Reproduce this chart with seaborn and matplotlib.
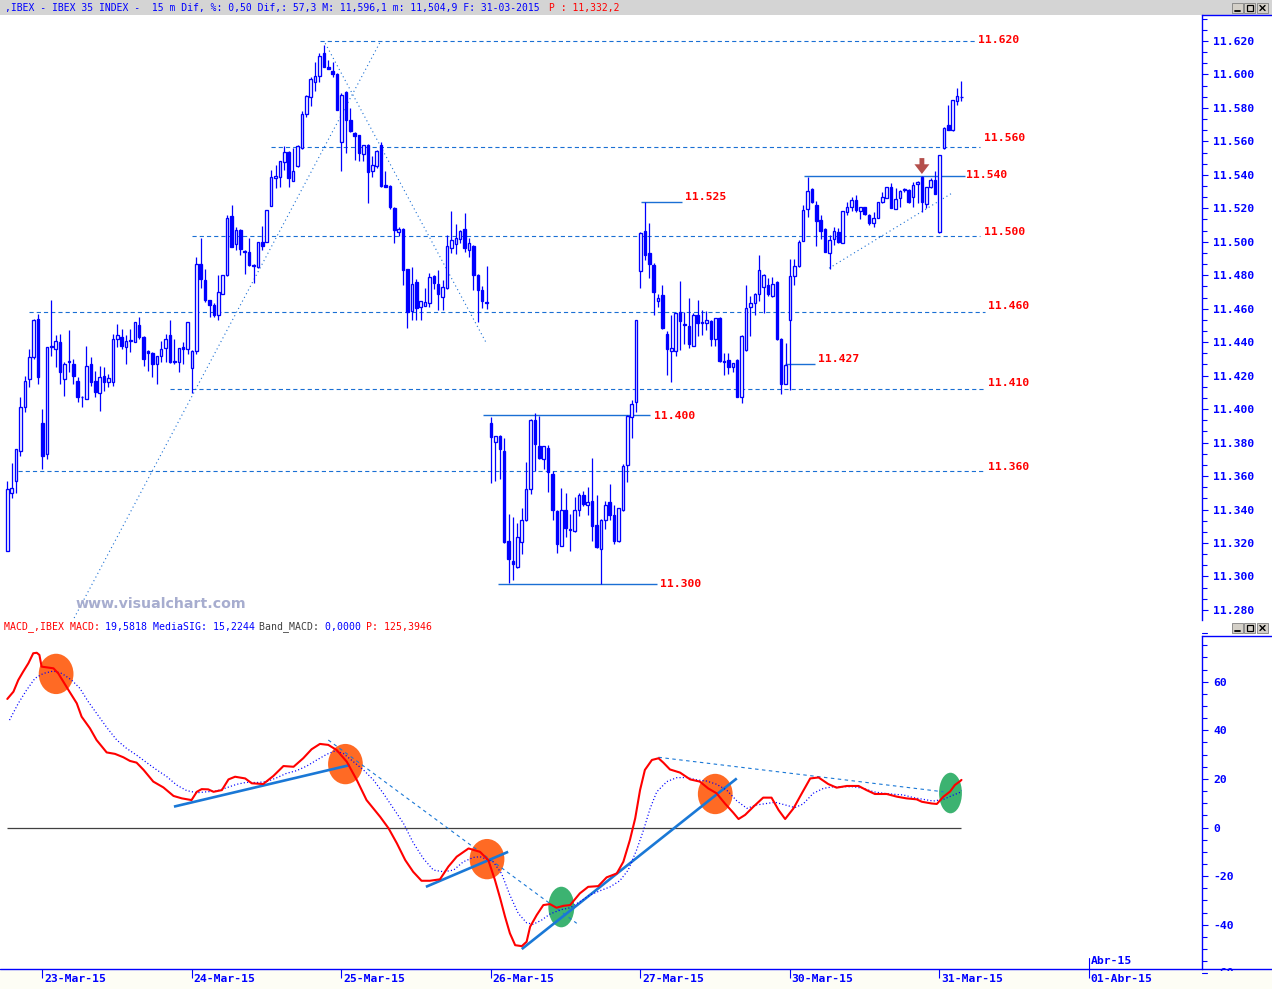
import numpy as np
import matplotlib
matplotlib.use("Agg")
import matplotlib.pyplot as plt
import matplotlib.transforms as mtransforms
from matplotlib.patches import Ellipse, Rectangle
from matplotlib.lines import Line2D
import seaborn as sns

# ---------------- DATA ----------------
opens = [
    11315, 11350, 11357, 11375, 11401, 11418, 11431, 11454, 11392, 11373,
    11437, 11436, 11440, 11418, 11428.5, 11427, 11417, 11407.5, 11406, 11427,
    11417, 11409.5, 11420, 11416, 11416, 11442, 11443, 11437, 11441, 11440,
    11450, 11443, 11435, 11433.5, 11427, 11431.5, 11436.5, 11444, 11428.5, 11428,
    11437, 11436, 11424.5, 11435, 11486.5, 11477, 11465, 11462, 11456.5, 11469,
    11480, 11515.5, 11498.5, 11507, 11494.5, 11494, 11486, 11485, 11500, 11500,
    11521.5, 11538, 11539, 11547.5, 11553.5, 11536.5, 11545, 11556, 11576.5, 11586.5,
    11595.5, 11599, 11612.5, 11604.5, 11602, 11600.5, 11559.5, 11589.5, 11573, 11565,
    11563.5, 11552.5, 11558, 11542, 11545, 11558, 11534, 11533.5, 11520, 11506,
    11507.5, 11483.5, 11458.5, 11476, 11461, 11461.5, 11463.5, 11479.5, 11475, 11467,
    11472.5, 11496.5, 11498.5, 11501.5, 11507.5, 11495, 11497.5, 11480, 11471, 11464,
    11392, 11380.5, 11384, 11375, 11321, 11309.5, 11305.5, 11320.5, 11333.5, 11352,
    11393.5, 11378, 11370, 11377, 11361.5, 11339, 11318.5, 11340, 11328.5, 11327,
    11340, 11348.5, 11342.5, 11345, 11331, 11316.5, 11334, 11344.5, 11337, 11321,
    11340, 11366.5, 11395.5, 11404, 11482.5, 11506.5, 11493.5, 11486, 11464.5, 11468,
    11445, 11435, 11434.5, 11458, 11451, 11449.5, 11438, 11456.5, 11452, 11451.5,
    11452.5, 11442, 11454.5, 11429, 11429.5, 11425, 11429.5, 11407, 11435.5, 11461,
    11463.5, 11469, 11473, 11474, 11467.5, 11476, 11442, 11415, 11453, 11479.5,
    11485.5, 11500.5, 11519.5, 11531.5, 11522, 11513, 11507.5, 11493.5, 11501.5, 11506,
    11499, 11518, 11520.5, 11525, 11518.5, 11520.5, 11516, 11511, 11514.5, 11523.5,
    11526, 11532.5, 11519.5, 11526, 11531, 11531, 11526.5, 11534.5, 11539, 11522.5,
    11532.5, 11537, 11506, 11556, 11570, 11567, 11584, 11586.5,
]
highs = [
    11357, 11368, 11376, 11407, 11420, 11436, 11454, 11457, 11400, 11437,
    11465, 11444, 11445, 11428, 11447, 11430, 11419, 11408, 11438, 11431,
    11423, 11426, 11425, 11421, 11445, 11451, 11448, 11444, 11448, 11452,
    11455, 11443.5, 11435.5, 11434, 11432, 11441, 11445, 11453, 11442, 11436.5,
    11440, 11452, 11435.5, 11491, 11502, 11484, 11465.5, 11463.5, 11480, 11480,
    11516, 11522, 11509, 11507.5, 11495, 11502, 11486.5, 11500, 11509.5, 11519,
    11543, 11546, 11548.5, 11557, 11554, 11556, 11558, 11578, 11587.5, 11598.5,
    11607.5, 11612.5, 11617.5, 11608.5, 11607.5, 11601, 11589, 11590, 11580, 11565.5,
    11564, 11558, 11558.5, 11551.5, 11555, 11559.5, 11542, 11534, 11520.5, 11509,
    11508, 11484, 11485, 11477.5, 11464.5, 11472.5, 11481.5, 11480, 11483, 11477,
    11504, 11518.5, 11510.5, 11507, 11517, 11502, 11498, 11480.5, 11473.5, 11485.5,
    11395, 11384, 11384.5, 11383, 11337.5, 11335.5, 11332, 11341, 11368.5, 11394,
    11397.5, 11396, 11378, 11378.5, 11363, 11340, 11353, 11350, 11337.5, 11347.5,
    11350, 11351, 11353.5, 11371, 11348.5, 11334.5, 11345, 11355.5, 11343, 11341,
    11367, 11396.5, 11405.5, 11453.5, 11506, 11523.5, 11511, 11487.5, 11469, 11474,
    11446.5, 11456, 11457.5, 11476.5, 11458, 11466.5, 11457.5, 11465.5, 11459.5, 11458.5,
    11453, 11454.5, 11455, 11433.5, 11433.5, 11427.5, 11430, 11444, 11474, 11467.5,
    11469.5, 11492, 11481, 11478.5, 11479, 11476.5, 11442.5, 11439.5, 11489.5, 11490,
    11501, 11522, 11539, 11532, 11524.5, 11516, 11508, 11504, 11509, 11508,
    11518.5, 11524, 11527, 11528, 11521, 11521, 11516.5, 11518, 11523.5, 11530,
    11533, 11535, 11532, 11531, 11532, 11531.5, 11536, 11536.5, 11539.5, 11533,
    11538, 11542, 11552, 11568.5, 11582, 11585, 11592, 11596,
]
lows = [
    11315, 11347, 11350, 11372, 11398, 11413, 11430, 11415, 11364, 11370,
    11432, 11425, 11415, 11408, 11422, 11415, 11404, 11401.5, 11406, 11414,
    11407.5, 11399, 11411, 11413, 11414, 11437, 11436, 11427, 11434, 11440,
    11442, 11426, 11423, 11419, 11415, 11428, 11428, 11427.5, 11427, 11422,
    11427, 11433, 11409.5, 11433, 11472.5, 11464, 11455, 11455, 11453.5, 11469,
    11479.5, 11497, 11495, 11492, 11481, 11485.5, 11475.5, 11484.5, 11495, 11500,
    11521.5, 11532, 11533, 11543, 11533, 11536.5, 11544.5, 11555.5, 11574.5, 11581,
    11590, 11595.5, 11604.5, 11603, 11598.5, 11579, 11542.5, 11553, 11565.5, 11549,
    11548, 11548, 11523, 11539, 11544, 11533, 11532.5, 11519.5, 11499.5, 11503.5,
    11474, 11448.5, 11453.5, 11453.5, 11453.5, 11461.5, 11461, 11471.5, 11459, 11459,
    11472, 11493, 11492.5, 11499, 11494, 11491, 11471, 11452, 11460.5, 11460,
    11356, 11357, 11358.5, 11320, 11296, 11298, 11305, 11313.5, 11333, 11349,
    11363, 11370, 11364.5, 11350.5, 11334, 11314, 11318, 11323.5, 11315, 11326.5,
    11336, 11342, 11337, 11321.5, 11317, 11295.5, 11328.5, 11334, 11319.5, 11320.5,
    11339, 11356.5, 11383, 11398.5, 11472.5, 11489, 11478.5, 11456.5, 11461, 11448,
    11420.5, 11416.5, 11432, 11435.5, 11439, 11436.5, 11437.5, 11443.5, 11444.5, 11447,
    11438, 11437.5, 11428, 11420.5, 11421, 11422, 11407, 11403.5, 11435, 11443.5,
    11456.5, 11464.5, 11457.5, 11467.5, 11467, 11441.5, 11409, 11415, 11411.5, 11474,
    11485, 11500.5, 11515, 11523, 11497.5, 11501.5, 11494, 11484, 11498, 11499,
    11499, 11516, 11518.5, 11518, 11513.5, 11516, 11510, 11509, 11514.5, 11523,
    11526, 11520, 11519.5, 11521, 11530, 11523, 11521, 11523, 11517.5, 11520,
    11532, 11528.5, 11505, 11555.5, 11566.5, 11566, 11581.5, 11584,
]
closes = [
    11352, 11353, 11376, 11401, 11417, 11431, 11453, 11419, 11372, 11437,
    11437.5, 11441, 11422, 11427, 11428, 11420, 11407.5, 11407, 11426, 11416,
    11410.5, 11419, 11416, 11418.5, 11442, 11444, 11438, 11441, 11441.5, 11452,
    11443, 11430, 11433.5, 11427, 11431.5, 11436, 11442, 11428, 11428, 11436.5,
    11436, 11452, 11435, 11486.5, 11477.5, 11465, 11462, 11456.5, 11470, 11480,
    11514.5, 11497, 11507, 11495.5, 11494, 11486, 11485.5, 11500, 11497.5, 11519,
    11538.5, 11539.5, 11548.5, 11553.5, 11538, 11542.5, 11557, 11576.5, 11587, 11597.5,
    11599, 11611, 11604.5, 11603, 11600.5, 11579, 11587.5, 11573, 11566, 11563,
    11553, 11558, 11541.5, 11546, 11554.5, 11533.5, 11532.5, 11520.5, 11507, 11507.5,
    11483, 11458, 11474.5, 11460.5, 11464.5, 11464, 11479, 11475.5, 11468.5, 11473,
    11497.5, 11501, 11502, 11506.5, 11496.5, 11499, 11480, 11471, 11464.5, 11463.5,
    11383.5, 11384, 11376, 11320.5, 11310.5, 11307.5, 11323.5, 11333.5, 11352.5, 11393.5,
    11379, 11370.5, 11378, 11362.5, 11340, 11319.5, 11340, 11329, 11327.5, 11339.5,
    11348.5, 11343.5, 11344.5, 11330, 11317.5, 11334, 11343, 11336.5, 11321, 11341,
    11366, 11396, 11403, 11453.5, 11505.5, 11492, 11486.5, 11470, 11466.5, 11448.5,
    11436, 11436.5, 11457.5, 11452.5, 11450.5, 11439, 11456.5, 11451.5, 11451.5, 11453.5,
    11442, 11454.5, 11428.5, 11428, 11425, 11427.5, 11407.5, 11443.5, 11460.5, 11463.5,
    11469, 11483, 11480, 11468.5, 11474.5, 11442, 11415, 11426.5, 11479.5, 11485.5,
    11500, 11519, 11530.5, 11523.5, 11512.5, 11506.5, 11494, 11501, 11506.5, 11500,
    11518.5, 11520.5, 11525, 11519, 11520.5, 11516.5, 11511.5, 11514.5, 11523.5, 11526.5,
    11532.5, 11520, 11525.5, 11530.5, 11531.3, 11523.5, 11534, 11536, 11523.5, 11532.5,
    11537, 11528.5, 11552, 11568, 11567, 11585, 11587, 11586.3,
]

# MACD line (bar position, value)
macd_x = [0, 1.4, 2.5, 3.6, 4.8, 5.9, 6.7, 7.3, 7.8, 10.5, 11.6, 13.9, 15.8, 16.9, 18.8,
          20.3, 22.6, 24.5, 26.4, 27.9, 29.4, 31, 33.2, 35.5, 37.8, 39.7, 41.9, 43.1, 44.2,
          45.7, 46.9, 48.8, 50.3, 51.8, 54.1, 55.6, 58.2, 60.5, 62.8, 65.1, 67.3, 69.2, 71.1,
          73, 74.9, 77.2, 79.5, 81.7, 84.8, 86.7, 88.6, 90.5, 92.3, 94.2, 96.1, 98.4, 100.3,
          102.2, 104.9, 107.5, 109.4, 110.9, 112.1, 113.2, 114.3, 115.5, 117, 118.1, 118.9,
          120.4, 121.9, 123.4, 124.9, 126.5, 128, 130.2, 132.1, 134.4, 136.3, 138.6, 140.1,
          141.6, 142.8, 143.9, 145, 146.6, 148.1, 149.2, 150.7, 153, 155.3, 157.5, 159.4,
          161.3, 163.2, 165.1, 166.3, 167.8, 169.7, 171.9, 173.8, 175.4, 176.9, 178.8, 180.7,
          182.6, 184.5, 186.7, 188.6, 190.9, 193.6, 195.4, 197.3, 200, 202.3, 204.5, 206.8,
          208, 210.2, 211.4, 212.9, 214.4, 215.5, 216.7, 217]
macd_v = [52.9, 55.9, 60.7, 64.1, 67.6, 71.7, 71.9, 71.0, 66.2, 65.5, 63.4, 56.6, 51.1, 45.6, 40.8,
          36.0, 30.9, 30.3, 28.9, 27.4, 26.7, 23.7, 18.9, 16.5, 13.0, 12.0, 11.3, 14.7, 15.8,
          15.7, 14.7, 15.4, 19.8, 20.9, 20.2, 18.2, 17.9, 21.2, 25.3, 25.0, 28.5, 32.2, 34.4,
          34.0, 31.9, 27.1, 19.5, 11.3, 4.4, -0.3, -6.5, -13.4, -18.2, -21.9, -21.9, -21.3, -16.1,
          -12.0, -8.6, -10.0, -13.4, -21.6, -29.2, -36.7, -43.5, -48.4, -48.8, -47.0, -40.8,
          -36.0, -31.9, -31.5, -33.0, -32.2, -31.9, -27.1, -24.4, -24.1, -20.5, -18.9, -14.1,
          -5.1, 3.8, 15.4, 23.7, 27.8, 28.5, 26.7, 23.9, 22.6, 19.8, 18.9, 16.1,
          14.1, 9.9, 6.1, 3.5, 5.2, 8.6, 12.3, 12.3, 7.2, 3.5, 7.9, 14.1,
          20.2, 20.6, 17.9, 16.4, 17.1, 17.1, 15.4, 13.8, 13.8, 12.7, 12.0, 11.6,
          10.6, 9.9, 9.7, 12.7, 14.8, 17.5, 19.1, 19.6]

# Signal line (MediaSIG)
sig_x = [0.5, 2.5, 4.4, 6.3, 8.2, 10.5, 12.4, 14.6, 16.5, 18.4, 20.3, 22.6, 24.9, 27.1, 29.4,
         31.7, 34, 36.3, 38.5, 40.8, 43.1, 45.3, 47.6, 49.9, 52.2, 54.4, 56.7, 59, 61.3, 63.5,
         65.8, 68.1, 70.4, 72.6, 74.5, 76.4, 78.7, 81, 83.3, 85.5, 87.8, 90.1, 92.3, 94.6,
         96.9, 99.2, 101.5, 103.7, 106, 107.5, 110.5, 112.4, 114.3, 116.2, 118.1, 119.6,
         121.5, 123.4, 125.7, 128, 130.2, 132.5, 134.8, 137.1, 139.3, 141.2, 143.1, 144.7,
         146.2, 147.7, 150, 152.2, 154.5, 156.8, 159.1, 161.3, 163.6, 165.9, 168.2, 170.4,
         172.7, 174.6, 176.9, 179.1, 181, 183.3, 185.6, 187.9, 190.1, 192.4, 194.7, 197,
         199.2, 201.5, 203.8, 206.1, 208.3, 210.6, 212.9, 214.8, 216.7, 217]
sig_v = [44.2, 51.1, 56.6, 61.4, 63.4, 64.4, 63.4, 60.7, 57.3, 51.8, 47.0, 41.2, 36.0, 32.6, 29.8,
         26.7, 23.7, 20.9, 17.5, 15.2, 14.3, 14.7, 15.0, 16.4, 17.8, 18.6, 18.5, 18.9, 20.5, 22.3,
         23.4, 25.3, 27.8, 30.1, 31.5, 30.5, 27.1, 23.7, 19.5, 14.1, 7.9, 1.7, -6.2, -12.7,
         -17.5, -18.2, -17.5, -14.1, -12.3, -12.0, -14.1, -18.9, -27.8, -35.3, -39.2, -39.8,
         -38.1, -35.6, -33.9, -33.0, -30.5, -27.8, -26.0, -24.4, -21.9, -17.5, -9.3, -1.0,
         7.9, 14.7, 18.9, 20.5, 20.6, 19.6, 19.1, 17.8, 15.4, 11.0, 7.9, 9.3,
         9.9, 10.4, 9.3, 8.2, 9.7, 14.1, 16.1, 16.8, 16.8, 16.8, 16.1, 14.7,
         14.1, 13.7, 13.4, 12.3, 11.6, 10.9, 11.6, 13.1, 14.5, 15.2]

day_start_bars = [8, 42, 76, 110, 144, 178, 212, 246]
day_labels = ["23-Mar-15", "24-Mar-15", "25-Mar-15", "26-Mar-15",
              "27-Mar-15", "30-Mar-15", "31-Mar-15", "01-Abr-15"]

# annotation levels on the price panel
dash_levels = [11620.0, 11556.7, 11503.5, 11458.1, 11412.1, 11363.1]
dash_start = [71.1, 60.0, 42.0, 4.9, 37.0, 2.4]
dash_end = [220.1, 221.2, 221.2, 222.3, 222.3, 222.3]
dash_labels = ["11.620", "11.560", "11.500", "11.460", "11.410", "11.360"]
dash_label_x = [220.8, 222.1, 222.1, 223.0, 223.0, 223.0]
dash_label_y = [11620.6, 11562.0, 11505.9, 11461.6, 11415.6, 11365.4]

solid_levels = [11523.8, 11539.3, 11427.0, 11396.5, 11295.5]
solid_start = [144.1, 181.2, 176.9, 108.2, 111.6]
solid_end = [153.4, 217.8, 183.7, 146.2, 147.8]
solid_labels = ["11.525", "11.540", "11.427", "11.400", "11.300"]
solid_label_x = [154.1, 218.0, 184.4, 147.1, 148.4]
solid_label_y = [11526.8, 11539.9, 11430.0, 11395.9, 11295.5]

diag_lines = [((15.2, 11275.2), (84.8, 11619.4)),
              ((72.3, 11618.6), (108.9, 11439.7)),
              ((186.9, 11484.2), (214.8, 11529.0))]

macd_trend_solid = [((37.9, 8.6), (77.9, 25.7)),
                    ((95.2, -24.4), (113.9, -10.0)),
                    ((117.0, -50.0), (165.9, 20.2))]
macd_trend_dashed = [((73.0, 36.0), (129.5, -39.4)),
                     ((148.1, 28.9), (212.9, 14.7))]
orange_marks = [(11.1, 63.2), (76.9, 26.1), (109.1, -13.0), (161.0, 13.8)]
green_marks = [(126.0, -32.7), (214.5, 14.2)]

# ---------------- STYLE ----------------
sns.set_style("white")
plt.rcParams['font.family'] = ['DejaVu Sans Mono', 'DejaVu Sans']
plt.rcParams['lines.scale_dashes'] = False

BLUE = '#0000ff'
RED = '#ff0000'
LINEBLUE = '#1a6fd4'
W, H = 1272, 989
AXR = 1202


def fx(px):
    return px / W


def fy(py):
    return 1 - py / H


fig = plt.figure(figsize=(W / 100, H / 100), dpi=100)
fig.patch.set_facecolor('white')

ax1 = fig.add_axes([0, fy(620), fx(AXR), (620 - 15) / H])
ax2 = fig.add_axes([0, fy(969), fx(AXR), (969 - 636) / H], sharex=ax1)
for ax in (ax1, ax2):
    ax.set_facecolor('white')
    for s in ('left', 'top', 'bottom'):
        ax.spines[s].set_visible(False)
    ax.spines['right'].set_color(BLUE)
    ax.spines['right'].set_linewidth(1.0)
    ax.yaxis.tick_right()
    ax.tick_params(axis='y', which='both', direction='out', color=BLUE, width=0.8,
                   labelcolor=BLUE, pad=4.2, left=False)
    ax.tick_params(axis='y', which='major', length=4)
    ax.tick_params(axis='y', which='minor', length=3.5)

ax1.set_xlim(-1.66, 271.7)
ax1.set_ylim(11274.0, 11635.5)
ax2.set_ylim(-58.2, 78.8)

# ---------------- CANDLES ----------------
o = np.array(opens, float)
h = np.array(highs, float)
l = np.array(lows, float)
c = np.array(closes, float)
idx = np.arange(len(c))
up = c >= o
ax1.vlines(idx, l, h, color=BLUE, lw=0.9, zorder=2)
bot = np.minimum(o, c)
hgt = np.maximum(np.abs(c - o), 0.5)
ax1.bar(idx[up], hgt[up], bottom=bot[up], width=0.58, facecolor='white',
        edgecolor=BLUE, linewidth=0.95, zorder=3)
ax1.bar(idx[~up], hgt[~up], bottom=bot[~up], width=0.58, facecolor=BLUE,
        edgecolor=BLUE, linewidth=0.95, zorder=3)

lab_font = dict(family='DejaVu Sans Mono', fontsize=8.2, fontweight='bold')
for lev, x0, x1, lab, lx, ly in zip(dash_levels, dash_start, dash_end, dash_labels,
                                    dash_label_x, dash_label_y):
    ax1.hlines(lev, x0, x1, color=LINEBLUE, lw=0.8, linestyles=(0, (3, 2.2)), zorder=1)
    ax1.text(lx, ly, lab, color=RED, va='center', ha='left', **lab_font)
for lev, x0, x1, lab, lx, ly in zip(solid_levels, solid_start, solid_end, solid_labels,
                                    solid_label_x, solid_label_y):
    ax1.hlines(lev, x0, x1, color=LINEBLUE, lw=1.0, zorder=1)
    ax1.text(lx, ly, lab, color=RED, va='center', ha='left', **lab_font)
for (xa, ya), (xb, yb) in diag_lines:
    ax1.plot([xa, xb], [ya, yb], color=LINEBLUE, lw=0.8, ls=(0, (0.8, 2.2)), zorder=1)

# down arrow (signal marker)
acx, atop, atip = 208.0, 11550.0, 11540.5
shw, hw, hstart = 0.55, 1.7, 11546.3
ax1.fill([acx - shw, acx + shw, acx + shw, acx + hw, acx, acx - hw, acx - shw],
         [atop, atop, hstart, hstart, atip, hstart, hstart],
         color='#b44f4b', zorder=5, lw=0)

# price ticks
pt = np.arange(11280, 11621, 20)
ax1.set_yticks(pt, labels=[f"{v / 1000:.3f}" for v in pt], fontsize=8.2,
               fontweight='bold', family='DejaVu Sans Mono')
ax1.set_yticks([11280 + k * 20 / 3 for k in range(0, 54) if 11274 < 11280 + k * 20 / 3 < 11635],
               minor=True)
ax1.tick_params(axis='x', which='both', bottom=False, labelbottom=False)

# ---------------- MACD ----------------
for (cx, cy) in orange_marks:
    ax2.add_patch(Ellipse((cx, cy), 7.9, 16.6, color='#ff6a24', lw=0, zorder=1))
for (cx, cy), wd in zip(green_marks, [5.9, 5.2]):
    ax2.add_patch(Ellipse((cx, cy), wd, 16.7, color='#3cb371', lw=0, zorder=1))

ax2.hlines(0, 0, 217, color='#404040', lw=0.9, zorder=2)
for (xa, ya), (xb, yb) in macd_trend_solid:
    ax2.plot([xa, xb], [ya, yb], color='#1a78d6', lw=1.9, zorder=3, solid_capstyle='butt')
for (xa, ya), (xb, yb) in macd_trend_dashed:
    ax2.plot([xa, xb], [ya, yb], color='#1a78d6', lw=0.8, ls=(0, (2.5, 2.5)), zorder=3)

sns.lineplot(x=sig_x, y=sig_v, ax=ax2, color=BLUE, lw=0.9, linestyle=(0, (0.8, 1.6)),
             estimator=None, sort=False, zorder=4)
sns.lineplot(x=macd_x, y=macd_v, ax=ax2, color=RED, lw=1.5, estimator=None, sort=False,
             zorder=5)
ax2.set_xlabel('')
ax2.set_ylabel('')
ax1.set_ylabel('')

mt = np.arange(-40, 61, 20)
ax2.set_yticks(mt, labels=[f"{v:d}" for v in mt], fontsize=8.2, fontweight='bold',
               family='DejaVu Sans Mono')
ax2.set_yticks(np.arange(-55, 79, 5), minor=True)

# clipped edge labels 80 and -60
clipbox = mtransforms.Bbox.from_extents(AXR, H - 971, W, H - 636)
yblend = mtransforms.blended_transform_factory(ax2.transAxes, ax2.transData)
for v in (80, -60):
    t = ax2.text(1 + 11 / (AXR), v, f"{v:d}", transform=yblend, color=BLUE, va='center',
                 ha='left', clip_on=True, **lab_font)
    t.set_clip_box(clipbox)
    ax2.plot([1, 1 + 5 / AXR], [v, v], transform=yblend, color=BLUE, lw=0.8,
             clip_on=False)

# date axis ticks
tick_x = np.array(day_start_bars) - 0.1
ax2.set_xticks(tick_x, labels=[''] * len(tick_x))
ax2.tick_params(axis='x', which='major', bottom=True, direction='out', length=6.5,
                width=0.8, color=BLUE)
xblend = mtransforms.blended_transform_factory(ax2.transData, ax2.transAxes)
for tx, lab in zip(tick_x, day_labels):
    ax2.text(tx + 0.45, -10 / 333, lab, transform=xblend, color=BLUE, va='center',
             ha='left', clip_on=False, **lab_font)
ax2.plot([tick_x[-1], tick_x[-1]], [11 / 333, 0], transform=xblend, color=BLUE,
         lw=0.8, clip_on=False)
ax2.text(tick_x[-1] + 0.45, 8 / 333, "Abr-15", transform=xblend, color=BLUE,
         va='center', ha='left', clip_on=False, **lab_font)

# ---------------- FIGURE DECORATIONS ----------------
fig.patches.append(Rectangle((0, fy(15)), 1, 15 / H, transform=fig.transFigure,
                             facecolor='#d4d4d4', edgecolor='none', zorder=-2))
fig.patches.append(Rectangle((0, 0), 1, 20 / H, transform=fig.transFigure,
                             facecolor='#fdfdf5', edgecolor='none', zorder=-2))
fig.lines.append(Line2D([0, 1], [fy(969.3), fy(969.3)], transform=fig.transFigure,
                        color=BLUE, lw=1.0))
fig.lines.append(Line2D([fx(AXR), 1], [fy(15), fy(15)], transform=fig.transFigure,
                        color=BLUE, lw=1.0))
fig.lines.append(Line2D([fx(AXR), 1], [fy(636), fy(636)], transform=fig.transFigure,
                        color=BLUE, lw=1.0))

HDR_FS = 7.07
CW = 5.91
header_parts = [(",IBEX - IBEX 35 INDEX -  15 m Dif, %: 0,50 Dif,: 57,3 M: 11,596,1 "
                 "m: 11,504,9 F: 31-03-2015 ", BLUE), ("P : 11,332,2", RED)]
xpos = 5
for txt, col in header_parts:
    fig.text(fx(xpos), fy(7.5), txt, color=col, fontsize=HDR_FS, va='center', ha='left',
             family='DejaVu Sans Mono')
    xpos += len(txt) * CW

macd_parts = [("MACD_,IBEX MACD: ", RED), ("19,5818 MediaSIG: 15,2244 ", BLUE),
              ("Band_MACD: ", '#404040'), ("0,0000 ", BLUE), ("P: 125,3946", RED)]
xpos = 4
for txt, col in macd_parts:
    fig.text(fx(xpos), fy(627), txt, color=col, fontsize=7.1, va='center', ha='left',
             family='DejaVu Sans Mono')
    xpos += len(txt) * 5.94

fig.text(fx(75), fy(604), "www.visualchart.com", color='#a7adcf', fontsize=10.2,
         fontweight='bold', family='DejaVu Sans', va='center', ha='left')


def buttons(ytop):
    xs = [1232, 1244, 1257]
    for k, x0 in enumerate(xs):
        fig.patches.append(Rectangle((fx(x0), fy(ytop + 10)), 11 / W, 10 / H,
                                     transform=fig.transFigure, facecolor='#d4d0c8',
                                     edgecolor='#808080', lw=0.6))
        if k == 0:
            fig.lines.append(Line2D([fx(x0 + 3), fx(x0 + 8)], [fy(ytop + 7.5)] * 2,
                                    transform=fig.transFigure, color='black', lw=1.3))
        elif k == 1:
            fig.patches.append(Rectangle((fx(x0 + 2.5), fy(ytop + 8)), 6 / W, 6 / H,
                                         transform=fig.transFigure, facecolor='none',
                                         edgecolor='black', lw=0.9))
        else:
            fig.lines.append(Line2D([fx(x0 + 3), fx(x0 + 8)], [fy(ytop + 2.5), fy(ytop + 7.5)],
                                    transform=fig.transFigure, color='black', lw=1.0))
            fig.lines.append(Line2D([fx(x0 + 3), fx(x0 + 8)], [fy(ytop + 7.5), fy(ytop + 2.5)],
                                    transform=fig.transFigure, color='black', lw=1.0))


buttons(3)
buttons(623)

fig.savefig('out.png', dpi=100)
